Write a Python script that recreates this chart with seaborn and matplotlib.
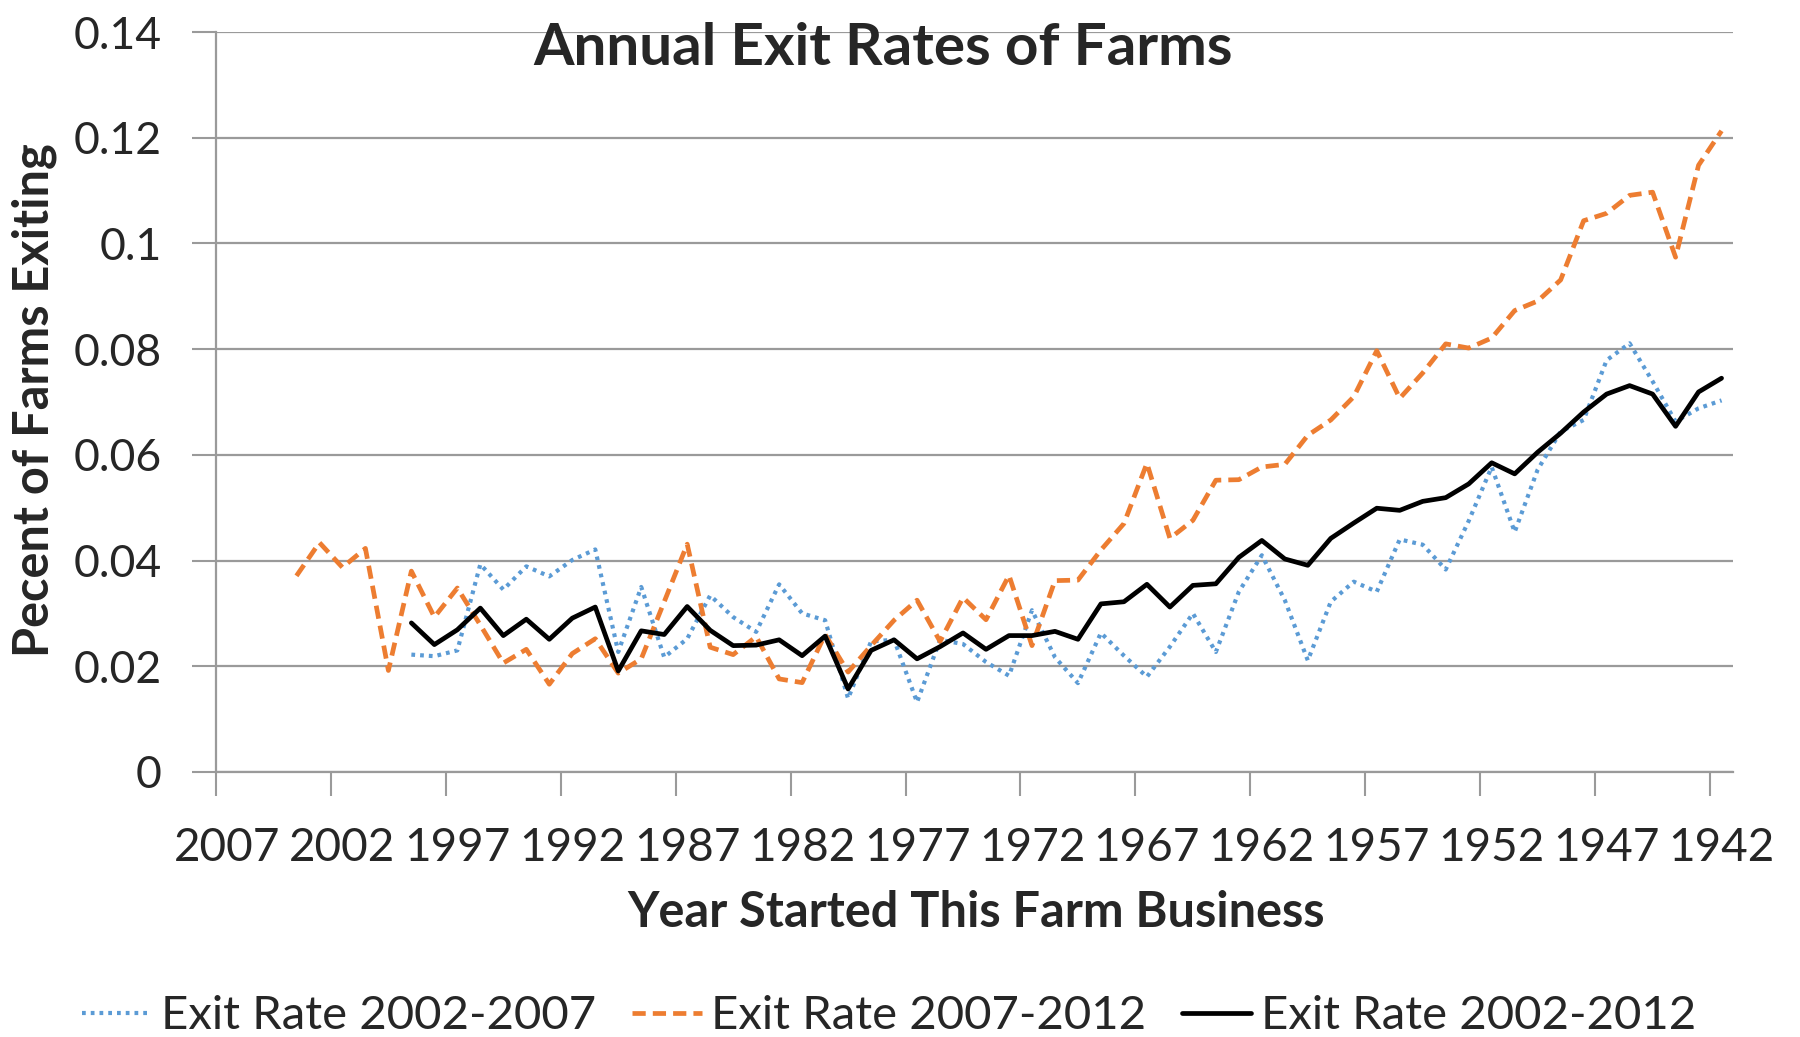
import numpy as np
import pandas as pd
import seaborn as sns
import matplotlib
matplotlib.use("Agg")
from matplotlib import pyplot as plt

# years 2007 down to 1942, one value per year (nan = no data)
years = list(range(2007, 1941, -1))

exit_0712 = [np.nan] * 3 + [
    0.0371, 0.0434, 0.0387, 0.0423, 0.0192, 0.0380, 0.0293, 0.0348, 0.0278, 0.0206,
    0.0232, 0.0166, 0.0224, 0.0252, 0.0187, 0.0214, 0.0322, 0.0431, 0.0236, 0.0222,
    0.0256, 0.0176, 0.0169, 0.0260, 0.0189, 0.0239, 0.0287, 0.0325, 0.0247, 0.0330,
    0.0288, 0.0372, 0.0239, 0.0362, 0.0363, 0.0420, 0.0470, 0.0584, 0.0442, 0.0476,
    0.0552, 0.0553, 0.0577, 0.0582, 0.0637, 0.0666, 0.0710, 0.0797, 0.0707, 0.0755,
    0.0810, 0.0802, 0.0821, 0.0873, 0.0891, 0.0931, 0.1043, 0.1057, 0.1091, 0.1097,
    0.0974, 0.1148, 0.1213]

exit_0207 = [np.nan] * 8 + [
    0.0222, 0.0219, 0.0230, 0.0393, 0.0345, 0.0389, 0.0370, 0.0401, 0.0421, 0.0227,
    0.0350, 0.0217, 0.0252, 0.0334, 0.0293, 0.0265, 0.0355, 0.0300, 0.0287, 0.0139,
    0.0247, 0.0250, 0.0132, 0.0250, 0.0242, 0.0208, 0.0182, 0.0306, 0.0217, 0.0168,
    0.0263, 0.0220, 0.0180, 0.0237, 0.0300, 0.0227, 0.0341, 0.0410, 0.0325, 0.0211,
    0.0322, 0.0360, 0.0341, 0.0440, 0.0430, 0.0383, 0.0475, 0.0577, 0.0454, 0.0572,
    0.0644, 0.0666, 0.0779, 0.0811, 0.0739, 0.0663, 0.0688, 0.0703]

exit_0212 = [np.nan] * 8 + [
    0.0282, 0.0241, 0.0269, 0.0310, 0.0258, 0.0289, 0.0251, 0.0291, 0.0312, 0.0191,
    0.0267, 0.0260, 0.0313, 0.0268, 0.0239, 0.0240, 0.0250, 0.0220, 0.0257, 0.0157,
    0.0230, 0.0250, 0.0214, 0.0237, 0.0263, 0.0232, 0.0258, 0.0258, 0.0266, 0.0251,
    0.0318, 0.0322, 0.0355, 0.0312, 0.0353, 0.0356, 0.0406, 0.0438, 0.0403, 0.0391,
    0.0442, 0.0471, 0.0499, 0.0495, 0.0512, 0.0519, 0.0545, 0.0585, 0.0564, 0.0605,
    0.0641, 0.0681, 0.0715, 0.0731, 0.0715, 0.0654, 0.0719, 0.0745]

label_years = list(range(2007, 1941, -5))

sns.set_style("white")
plt.rcParams['font.family'] = ['Lato', 'DejaVu Sans']

df = pd.DataFrame({"year": years, "a": exit_0207, "b": exit_0712, "c": exit_0212})

fig = plt.figure(figsize=(18, 10.37), dpi=100)
ax = fig.add_axes([0.12, 0.2556, 0.8428, 0.7135])

series = [
    ("a", "Exit Rate 2002-2007", "#5B9BD5", (0, (0.9, 1.2)), 3.0),
    ("b", "Exit Rate 2007-2012", "#ED7D31", (0, (2.8, 1.5)), 3.4),
    ("c", "Exit Rate 2002-2012", "black", "-", 3.4),
]
for col, name, color, ls, lw in series:
    d = df[["year", col]].dropna()
    sns.lineplot(data=d, x="year", y=col, ax=ax, color=color, linestyle=ls,
                 linewidth=lw, label=name, sort=False)

ax.set_xlim(2007.5, 1941.5)
ax.set_ylim(0, 0.14)
ax.set_yticks([0, 0.02, 0.04, 0.06, 0.08, 0.1, 0.12, 0.14])
ax.set_yticklabels(["0", "0.02", "0.04", "0.06", "0.08", "0.1", "0.12", "0.14"])
ax.yaxis.grid(True, color="#9a9a9a", linewidth=1.6)
ax.set_axisbelow(True)

# tick marks on category boundaries, labels on category centres
ax.set_xticks([y + 0.5 for y in label_years])
ax.set_xticklabels([])
ax.set_xticks(label_years, minor=True)
ax.set_xticklabels([str(y) for y in label_years], minor=True)
ax.tick_params(axis="x", which="major", direction="out", length=17, width=1.5,
               color="#9a9a9a", bottom=True)
ax.tick_params(axis="x", which="minor", length=0, pad=40, labelsize=33)
ax.tick_params(axis="y", direction="out", length=17, width=1.5, color="#9a9a9a",
               left=True, pad=22, labelsize=32)

for s in ["top", "right"]:
    ax.spines[s].set_visible(False)
for s in ["left", "bottom"]:
    ax.spines[s].set_color("#9a9a9a")
    ax.spines[s].set_linewidth(1.6)

ax.set_xlabel("Year Started This Farm Business", fontsize=35, fontweight="bold")
ax.xaxis.label.set_va("center")
ax.xaxis.set_label_coords(0.501, -0.19)
ax.set_ylabel("Pecent of Farms Exiting", fontsize=35, fontweight="bold")
ax.yaxis.label.set_va("center")
ax.yaxis.set_label_coords(-0.12, 0.503)

ax.text(0.44, 0.978, "Annual Exit Rates of Farms", transform=ax.transAxes,
        ha="center", va="center", fontsize=42, fontweight="bold")

ax.get_legend().remove()
handles, labels = ax.get_legend_handles_labels()
fig.legend(handles, labels, loc="center", bbox_to_anchor=(0.494, 0.02), ncol=3,
           frameon=False, fontsize=34, handlelength=1.47, columnspacing=0.76,
           handletextpad=0.2)

fig.savefig("out.png", dpi=100)
